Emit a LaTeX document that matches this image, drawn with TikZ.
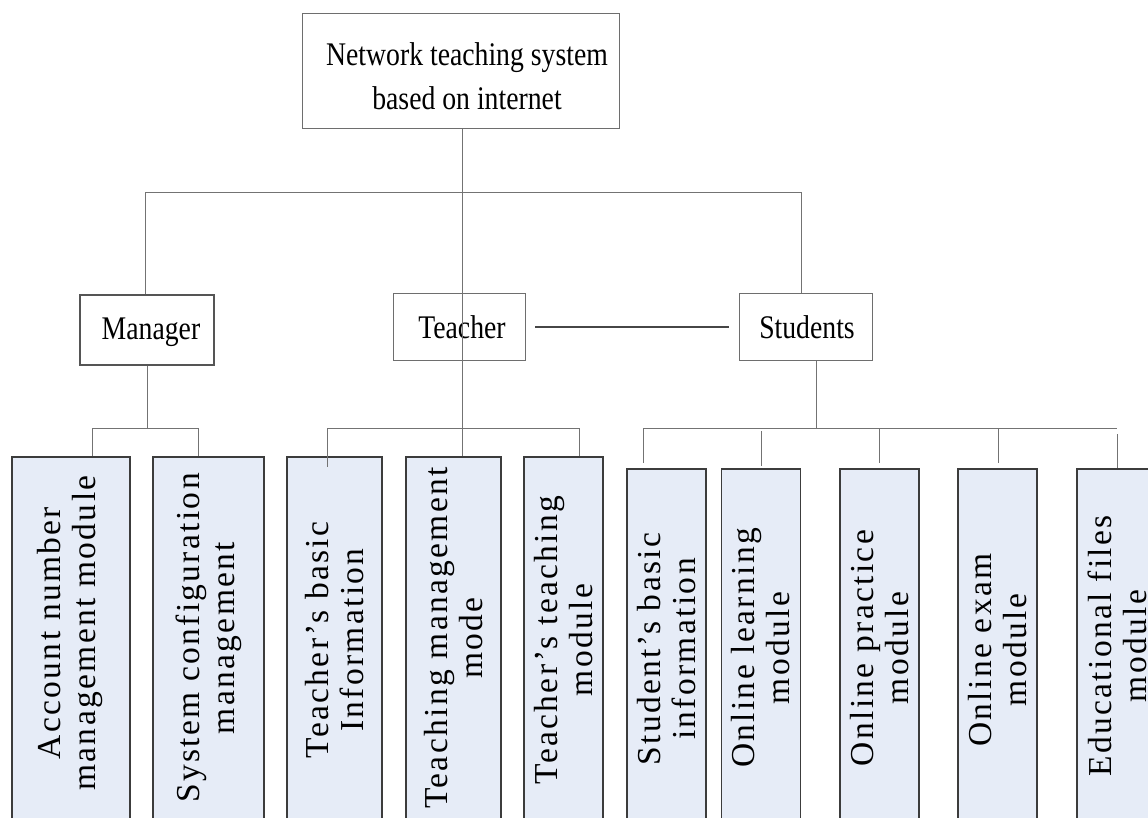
\documentclass[tikz,border=0pt]{standalone}
\usepackage{fontspec}
\setmainfont{Liberation Serif}
\newfontfamily\narrowfont[FakeStretch=0.84]{Liberation Serif}
\newfontfamily\modfont[LetterSpace=7]{Liberation Serif}
\definecolor{modfill}{RGB}{230,236,247}
\definecolor{modline}{RGB}{60,60,60}
\definecolor{boxline}{RGB}{110,110,110}
\definecolor{conngray}{RGB}{115,115,115}
\definecolor{mgrline}{RGB}{85,85,85}
\definecolor{linkdark}{RGB}{70,70,70}
\tikzset{
  rolebox/.style={draw=boxline, line width=1pt, fill=white, inner sep=0pt},
  modbox/.style={draw=modline, line width=1.2pt, fill=modfill, inner sep=0pt},
  conn/.style={draw=conngray, line width=1pt},
  vlabel/.style={rotate=90, align=center, inner sep=0pt, font=\modfont\fontsize{33.5}{35}\selectfont},
  hlabel/.style={align=center, inner sep=0pt, font=\narrowfont\fontsize{33}{44}\selectfont}
}
\begin{document}
\begin{tikzpicture}[x=1pt,y=-1pt]
\useasboundingbox (0,0) rectangle (1148,817);
\clip (0,0) rectangle (1148,817);
\fill[white] (0,0) rectangle (1148,817);

% top box
\node[rolebox, minimum width=317pt, minimum height=115pt] (top) at (461,70.5) {};
\node[hlabel] (toptext) at (467,76) {Network teaching system\\based on internet};

% role boxes
\node[draw=mgrline, line width=2.4pt, fill=white, inner sep=0pt, minimum width=134pt, minimum height=70pt] (mgr) at (147,330) {};
\node[hlabel] (mgrtext) at (151,332) {Manager};
\node[rolebox, minimum width=132pt, minimum height=67pt] (tch) at (459,326.5) {};
\node[hlabel] (tchtext) at (462,327) {Teacher};
\node[rolebox, minimum width=133pt, minimum height=67pt] (stu) at (805.5,326.5) {};
\node[hlabel] (stutext) at (807,327) {Students};

% module boxes (extend past the lower edge)
\node[modbox, minimum width=118pt, minimum height=383pt] (m1) at (71,648.5) {};
\node[modbox, minimum width=111pt, minimum height=383pt] (m2) at (208.5,648.5) {};
\node[modbox, minimum width=95pt, minimum height=383pt] (m3) at (334.5,648.5) {};
\node[modbox, minimum width=95pt, minimum height=383pt] (m4) at (453.5,648.5) {};
\node[modbox, minimum width=79pt, minimum height=383pt] (m5) at (563.5,648.5) {};
\node[modbox, minimum width=79pt, minimum height=371pt] (m6) at (666.5,654.5) {};
\node[modbox, minimum width=79pt, minimum height=371pt] (m7) at (761,654.5) {};
\node[modbox, minimum width=79pt, minimum height=371pt] (m8) at (879.5,654.5) {};
\node[modbox, minimum width=79pt, minimum height=371pt] (m9) at (997.5,654.5) {};
\node[modbox, minimum width=79pt, minimum height=371pt] (m10) at (1116.5,654.5) {};

\node[vlabel] (m1t) at (70,633) {Account number\\management module};
\node[vlabel] (m2t) at (208.5,638) {System configuration\\management};
\node[vlabel] (m3t) at (334.5,640) {Teacher’s basic\\Information};
\node[vlabel] (m4t) at (453.5,638) {Teaching management\\mode};
\node[vlabel] (m5t) at (563.5,640) {Teacher’s teaching\\module};
\node[vlabel] (m6t) at (666.5,649) {Student’s basic\\information};
\node[vlabel] (m7t) at (761,648) {Online learning\\module};
\node[vlabel] (m8t) at (879.5,648) {Online practice\\module};
\node[vlabel] (m9t) at (997.5,650) {Online exam\\module};
\node[vlabel] (m10t) at (1117,646) {Educational files\\module};

% junction coordinates
\coordinate (j0) at (462,192);
\coordinate (jl) at (145,192);
\coordinate (jr) at (801,192);
\coordinate (mj) at (147,428);
\coordinate (ml) at (92,428);
\coordinate (mr) at (198,428);
\coordinate (tl) at (327,428);
\coordinate (tr) at (579,428);
\coordinate (tl2) at (327,467);
\coordinate (la) at (535,327);
\coordinate (lb) at (729,327);
\coordinate (sj) at (816,428);
\coordinate (sl) at (643,428);
\coordinate (sr) at (1117,428);
\coordinate (s1) at (643,463);
\coordinate (s2a) at (761,431);
\coordinate (s2b) at (761,466);
\coordinate (s3) at (879,463);
\coordinate (s4) at (998,463);
\coordinate (s5a) at (1117,434);

% connectors
\draw[conn] (top.south -| j0) -- (j0);
\draw[conn] (jl) -- (jr);
\draw[conn] (jl) -- (jl |- mgr.north);
\draw[conn] (jr) -- (jr |- stu.north);
\draw[conn] (j0) -- (j0 |- m4.north);

\draw[conn] (mj |- mgr.south) -- (mj);
\draw[conn] (ml) -- (mr);
\draw[conn] (ml) -- (ml |- m1.north);
\draw[conn] (mr) -- (mr |- m2.north);

\draw[conn] (tl) -- (tr);
\draw[conn] (tl) -- (tl2);
\draw[conn] (tr) -- (tr |- m5.north);

\draw[draw=linkdark, line width=1.5pt] (la) -- (lb);

\draw[conn] (sj |- stu.south) -- (sj);
\draw[conn] (sl) -- (sr);
\draw[conn] (sl) -- (s1);
\draw[conn] (s2a) -- (s2b);
\draw[conn] (sl -| s3) -- (s3);
\draw[conn] (sl -| s4) -- (s4);
\draw[conn] (s5a) -- (s5a |- m10.north);
\end{tikzpicture}
\end{document}
